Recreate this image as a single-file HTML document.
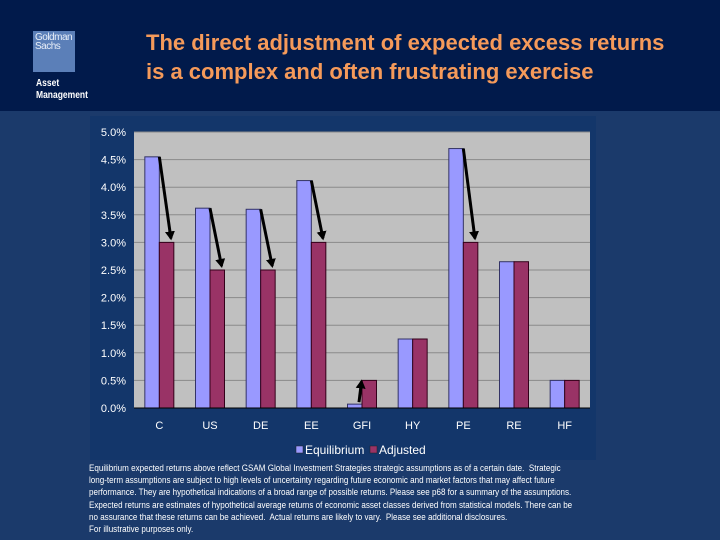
<!DOCTYPE html>
<html><head><meta charset="utf-8">
<style>
body{margin:0;width:720px;height:540px;overflow:hidden;background:#1b3a6b;font-family:"Liberation Sans",sans-serif;position:relative}
#hdr{position:absolute;left:0;top:0;width:720px;height:111px;background:#011a4b}
#logo{position:absolute;left:33px;top:31px;width:42px;height:41px;background:#5b7fb8;color:#e8eef8;font-size:10px;line-height:9px;padding:2px 0 0 2px;box-sizing:border-box;letter-spacing:-0.5px}
#am{position:absolute;left:36px;top:78px;color:#fff;font-size:10px;line-height:12px;font-weight:bold;transform:scaleX(0.85);transform-origin:left}
#title{position:absolute;left:146px;top:28px;color:#f59a5a;font-size:22px;line-height:29px;font-weight:bold}
#foot{position:absolute;left:89px;top:463px;width:582px;color:#fff;font-size:9.6px;line-height:12.2px;transform:scaleX(0.84);transform-origin:left top}
</style></head><body>
<div id="hdr"></div>
<div id="logo">Goldman<br>Sachs</div>
<div id="am">Asset<br>Management</div>
<div id="title">The direct adjustment of expected excess returns<br>is a complex and often frustrating exercise</div>
<svg id="chart" width="720" height="540" style="position:absolute;left:0;top:0">
<defs><marker id="ah" markerWidth="10" markerHeight="10" refX="7" refY="5" orient="auto" markerUnits="userSpaceOnUse"><path d="M0,0 L9,5 L0,10 z" fill="#000"/></marker></defs>
</svg>
<div id="foot">Equilibrium expected returns above reflect GSAM Global Investment Strategies strategic assumptions as of a certain date.&nbsp; Strategic long-term assumptions are subject to high levels of uncertainty regarding future economic and market factors that may affect future performance. They are hypothetical indications of a broad range of possible returns. Please see p68 for a summary of the assumptions. Expected returns are estimates of hypothetical average returns of economic asset classes derived from statistical models. There can be no assurance that these returns can be achieved.&nbsp; Actual returns are likely to vary.&nbsp; Please see additional disclosures.<br>For illustrative purposes only.</div>
<script>
const categories=["C","US","DE","EE","GFI","HY","PE","RE","HF"];
const equilibrium=[4.55,3.62,3.6,4.12,0.07,1.25,4.7,2.65,0.5];
const adjusted=[3.0,2.5,2.5,3.0,0.5,1.25,3.0,2.65,0.5];
const yTicks=[0,0.5,1,1.5,2,2.5,3,3.5,4,4.5,5];
const svg=document.getElementById('chart');
const NS='http://www.w3.org/2000/svg';
const L=134,R=590,T=132,B=408,yMax=5;
const y=v=>B-(v/yMax)*(B-T);
const bw=(R-L)/categories.length;
const xc=i=>L+bw*(i+0.5);
function mk(tag,attrs,parent){const e=document.createElementNS(NS,tag);for(const k in attrs)e.setAttribute(k,attrs[k]);(parent||svg).appendChild(e);return e;}
let box=mk('rect',{x:90,y:116,width:506,height:344,fill:'#13366a'});


let pa=mk('rect',{x:L,y:T,width:R-L,height:B-T,fill:'#c0c0c0'});


yTicks.forEach(t=>{
 let g=mk('line',{x1:L,x2:R,y1:y(t),y2:y(t),stroke:'#8a8a8a','stroke-width':1});
 
 
 let tx=mk('text',{x:126,y:y(t)+4,'text-anchor':'end',fill:'#fff','font-size':11});
 tx.textContent=t.toFixed(1)+'%';
 
 
});
const w=14.5;
categories.forEach((c,i)=>{
 let b1=mk('rect',{x:xc(i)-w,y:y(equilibrium[i]),width:w,height:B-y(equilibrium[i]),fill:'#9999ff',stroke:'#333366','stroke-width':1});
 
 
 let b2=mk('rect',{x:xc(i),y:y(adjusted[i]),width:w,height:B-y(adjusted[i]),fill:'#993366',stroke:'#33001a','stroke-width':1});
 
 
 let tx=mk('text',{x:xc(i),y:429,'text-anchor':'middle',fill:'#fff','font-size':11});
 tx.textContent=c;
 
 
 if(Math.abs(equilibrium[i]-adjusted[i])>0.01){
  let down=equilibrium[i]>adjusted[i];
  let x1=down?xc(i):xc(i)-3,y1=down?y(equilibrium[i]):y(equilibrium[i])-2;
  let x2=down?xc(i)+w*0.8:xc(i)-0.5,y2=down?y(adjusted[i])-4:y(adjusted[i])+1;
  let a=mk('line',{x1:x1,y1:y1,x2:x2,y2:y2,stroke:'#000','stroke-width':3,'marker-end':'url(#ah)'});
  
  
 }
});
let ax=mk('line',{x1:L,x2:R,y1:B,y2:B,stroke:'#000','stroke-width':1});


[['Equilibrium','#9999ff',296],['Adjusted','#993366',370]].forEach(([n,c,x])=>{
 let s=mk('rect',{x:x,y:446,width:7,height:7,fill:c,stroke:'#222','stroke-width':0.5});
 
 
 let t=mk('text',{x:x+9,y:454,fill:'#fff','font-size':12});
 t.textContent=n;
 
 
});
</script>
</body></html>
